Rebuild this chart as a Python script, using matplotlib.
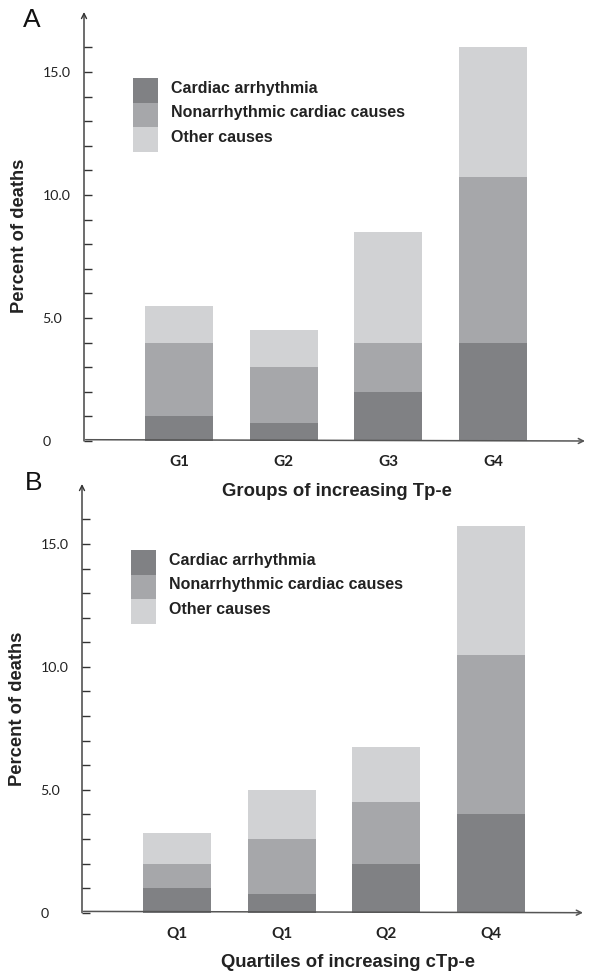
import matplotlib
matplotlib.use("Agg")
import matplotlib.pyplot as plt
from matplotlib.patches import Rectangle
import numpy as np

# ---- data ----
groups_a = ["G1", "G2", "G3", "G4"]
arrhythmia_a = [1.0, 0.75, 2.0, 4.0]
nonarrhythmic_a = [3.0, 2.25, 2.0, 6.75]
other_a = [1.5, 1.5, 4.5, 5.25]

groups_b = ["Q1", "Q1", "Q2", "Q4"]
arrhythmia_b = [1.0, 0.75, 2.0, 4.0]
nonarrhythmic_b = [1.0, 2.25, 2.5, 6.5]
other_b = [1.25, 2.0, 2.25, 5.25]

series_names = ["Cardiac arrhythmia", "Nonarrhythmic cardiac causes", "Other causes"]
colors = ["#808184", "#a6a7aa", "#d1d2d4"]
major_ticks = [0, 5, 10, 15]
major_labels = ["0", "5.0", "10.0", "15.0"]
xlabels = ["Groups of increasing Tp-e", "Quartiles of increasing cTp-e"]
panel_letters = ["A", "B"]

W, H = 595, 973
fig = plt.figure(figsize=(W / 100, H / 100), dpi=100)

def px_axes(left, right, bottom, top):
    return fig.add_axes([left / W, 1 - bottom / H, (right - left) / W, (bottom - top) / H])

panels = [
    dict(ax=px_axes(84, 585, 441, 12), cats=groups_a, vals=[arrhythmia_a, nonarrhythmic_a, other_a],
         leg=(133, 78), ylab_y=0.478, letter_y=27, xlab=(0.504, -0.117)),
    dict(ax=px_axes(82, 583, 912.7, 484), cats=groups_b, vals=[arrhythmia_b, nonarrhythmic_b, other_b],
         leg=(131, 550), ylab_y=0.476, letter_y=490, xlab=(0.53, -0.117)),
]

for i, p in enumerate(panels):
    ax = p["ax"]
    ax.set_facecolor("none")
    x = np.arange(len(p["cats"]))
    bottom = np.zeros(len(x))
    for vals, name, c in zip(p["vals"], series_names, colors):
        ax.bar(x, vals, width=0.65, bottom=bottom, color=c, edgecolor="none", label=name, zorder=2)
        bottom = bottom + np.array(vals)
    ax.set_xlim(-0.907, 3.88)
    ax.set_ylim(0, 17.44)
    for s in ax.spines.values():
        s.set_visible(False)
    # axes arrows
    ax.annotate("", xy=(0, 1), xytext=(0, 0), xycoords="axes fraction",
                arrowprops=dict(arrowstyle="->", lw=1.0, color="#333333", shrinkA=0, shrinkB=0,
                                mutation_scale=9), zorder=3)
    ax.annotate("", xy=(1, 0), xytext=(0.003, 0.003), xycoords="axes fraction",
                arrowprops=dict(arrowstyle="->", lw=1.1, color="#555555", shrinkA=0, shrinkB=0,
                                mutation_scale=9), zorder=3)
    ax.set_yticks(major_ticks)
    ax.set_yticklabels(major_labels, fontfamily="Lato", fontsize=10.2, color="#222222")
    ax.set_yticks(np.arange(1, 17), minor=True)
    ax.tick_params(axis="y", which="both", direction="in", length=6, width=1.0, color="#333333", pad=30)
    ax.tick_params(axis="y", which="minor", labelleft=False)
    for lab in ax.get_yticklabels():
        lab.set_horizontalalignment("left")
    ax.set_xticks(x)
    ax.set_xticklabels(p["cats"], fontfamily="Lato", fontweight="bold", fontsize=11, color="#222222")
    ax.tick_params(axis="x", length=0, pad=10)
    ax.set_ylabel("Percent of deaths", fontfamily="Liberation Sans", fontweight="bold", fontsize=13.2,
                  color="#222222", va="center")
    ax.yaxis.set_label_coords(-0.128, p["ylab_y"])
    ax.set_xlabel(xlabels[i], fontfamily="Liberation Sans", fontweight="bold", fontsize=13.3,
                  color="#222222", va="center")
    ax.xaxis.set_label_coords(*p["xlab"])
    # legend (manual, contiguous swatches)
    lx, ly = p["leg"]
    sw, sh = 25, 24.5
    for k, (name, c) in enumerate(zip(series_names, colors)):
        top = ly + k * sh
        fig.patches.append(Rectangle((lx / W, 1 - (top + sh) / H), sw / W, sh / H,
                                     transform=fig.transFigure, facecolor=c, edgecolor="none"))
        fig.text((lx + sw + 13) / W, 1 - (top + sh / 2 - 2) / H, name, fontfamily="Liberation Sans",
                 fontweight="bold", fontsize=11.5, va="center", ha="left", color="#222222")
    fig.text((23 if i == 0 else 25) / W, 1 - p["letter_y"] / H, panel_letters[i],
             fontfamily="Liberation Sans", fontsize=19, va="baseline", ha="left", color="#111111")

fig.savefig("out.png", dpi=100)
